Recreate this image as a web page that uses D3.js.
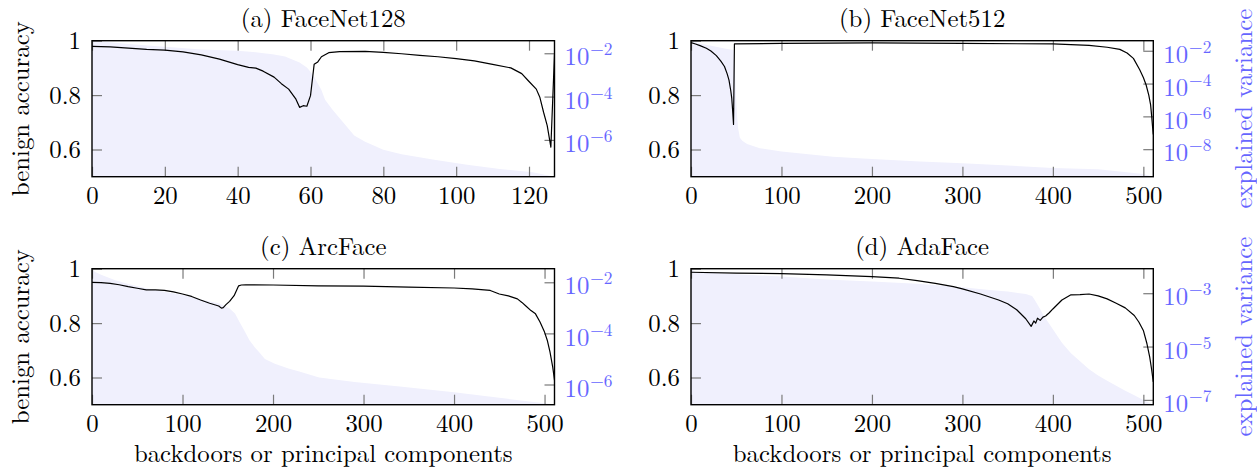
<!DOCTYPE html>
<html>
<head>
<meta charset="utf-8">
<script src="https://cdn.jsdelivr.net/npm/d3@7"></script>
<style>
  html, body { margin: 0; padding: 0; background: #fff; }
  svg { display: block; }
</style>
</head>
<body>
<svg id="chart" width="1257" height="472"></svg>
<script>
// ---- data -------------------------------------------------------------
const titles = ["(a) FaceNet128", "(b) FaceNet512", "(c) ArcFace", "(d) AdaFace"];
const yLabel = "benign accuracy";
const y2Label = "explained variance";
const xLabel = "backdoors or principal components";

const xTicks128 = [0, 20, 40, 60, 80, 100, 120];
const xTicks512 = [0, 100, 200, 300, 400, 500];
const accTicks = [0.6, 0.8, 1];

// FaceNet128 (128 components)
const fn128AccX = [0,5,10,15,20,25,30,35,40,43,45,47,50,52,54,56,57,58,59,60,61,62,63,65,68,75,80,85,90,95,100,105,110,115,118,120,122,123,124,125,126,127];
const fn128Acc  = [0.979,0.977,0.973,0.968,0.965,0.959,0.948,0.932,0.912,0.902,0.899,0.888,0.866,0.842,0.822,0.785,0.755,0.761,0.759,0.798,0.913,0.922,0.941,0.956,0.960,0.961,0.957,0.952,0.946,0.941,0.934,0.926,0.913,0.900,0.879,0.850,0.822,0.791,0.737,0.688,0.609,0.950];
const fn128VarX = [0,5,10,20,30,40,45,50,53,55,57,59,60,61,62,63,64,66,69,72,75,80,85,94,103,112,121,127];
const fn128Var  = [3.8e-2,3.2e-2,2.7e-2,2.0e-2,1.5e-2,1.3e-2,1.1e-2,8.7e-3,7.1e-3,5.2e-3,3.7e-3,2.2e-3,1.4e-3,8.3e-4,4.0e-4,2.0e-4,7.1e-5,2.5e-5,6.3e-6,1.6e-6,8.3e-7,3.5e-7,2.2e-7,1.2e-7,7.1e-8,4.5e-8,3.2e-8,2.0e-8];
const varTicks128 = [1e-2, 1e-4, 1e-6];

// FaceNet512 (512 components)
const fn512AccX = [0,5,10,17,22,28,33,37,40,42,44,45,46,47,48,100,200,300,400,440,460,474,482,489,496,500,503,506,508,509,510,511];
const fn512Acc  = [0.993,0.988,0.982,0.972,0.962,0.945,0.925,0.905,0.878,0.855,0.815,0.790,0.745,0.692,0.988,0.990,0.992,0.990,0.988,0.983,0.976,0.968,0.955,0.935,0.893,0.865,0.838,0.800,0.765,0.730,0.690,0.655];
const fn512VarX = [0,10,25,40,47,48,49,50,51,52,54,57,62,76,100,157,200,253,300,400,450,500,511];
const fn512Var  = [4.1e-2,2.8e-2,1.9e-2,1.3e-2,1.1e-2,2.5e-3,1.6e-4,1.0e-5,1.0e-6,2.0e-7,5.0e-8,3.2e-8,2.1e-8,1.15e-8,7.1e-9,3.5e-9,2.5e-9,1.8e-9,1.4e-9,7.2e-10,6.0e-10,3.1e-10,2.1e-10];
const varTicks512 = [1e-2, 1e-4, 1e-6, 1e-8];

// ArcFace (512 components)
const arcAccX = [0,10,20,30,40,50,60,70,80,90,100,110,120,130,140,143,145,148,152,157,162,165,170,200,250,300,350,400,420,440,450,460,470,475,480,485,490,495,500,503,506,509,510,511];
const arcAcc  = [0.950,0.949,0.946,0.941,0.934,0.928,0.922,0.922,0.920,0.915,0.907,0.898,0.885,0.873,0.863,0.855,0.857,0.868,0.880,0.901,0.937,0.940,0.941,0.940,0.937,0.936,0.932,0.929,0.926,0.920,0.907,0.900,0.889,0.876,0.861,0.846,0.834,0.804,0.767,0.737,0.694,0.639,0.615,0.590];
const arcVarX = [0,3,10,25,40,60,80,100,120,140,152,158,163,169,174,180,185,191,202,217,229,251,290,340,400,450,500,511];
const arcVar  = [3.4e-2,2.6e-2,1.95e-2,1.23e-2,8.5e-3,5.8e-3,4.3e-3,3.2e-3,2.1e-3,1.5e-3,9.5e-4,6.0e-4,2.8e-4,1.15e-4,5.4e-5,2.8e-5,1.8e-5,1.0e-5,6.5e-6,4.2e-6,3.2e-6,1.9e-6,1.26e-6,8.3e-7,5.0e-7,3.0e-7,1.86e-7,1.62e-7];
const varTicksArc = [1e-2, 1e-4, 1e-6];

// AdaFace (512 components)
const adaAccX = [0,50,100,150,200,230,250,270,290,300,320,340,350,360,370,376,379,381,383,386,389,392,396,400,410,420,430,440,450,460,470,480,490,495,500,504,507,509,511];
const adaAcc  = [0.987,0.984,0.982,0.977,0.971,0.965,0.956,0.946,0.934,0.926,0.907,0.885,0.871,0.849,0.816,0.788,0.808,0.800,0.818,0.810,0.822,0.826,0.838,0.852,0.885,0.904,0.905,0.907,0.900,0.889,0.873,0.856,0.828,0.804,0.773,0.724,0.676,0.633,0.584];
const adaVarX = [0,5,50,100,150,200,250,300,330,350,370,377,380,386,390,395,400,410,420,430,440,450,460,470,480,490,500,511];
const adaVar  = [8.3e-3,6.3e-3,5.1e-3,4.2e-3,3.3e-3,2.75e-3,2.25e-3,1.66e-3,1.32e-3,1.15e-3,9.3e-4,7.9e-4,5.6e-4,2.5e-4,1.4e-4,7.9e-5,4.5e-5,1.4e-5,5.6e-6,2.8e-6,1.4e-6,8.3e-7,5.2e-7,3.4e-7,2.2e-7,1.5e-7,1.0e-7,6.6e-8];
const varTicksAda = [1e-3, 1e-5, 1e-7];

// ---- layout & style ---------------------------------------------------
const colX = [[92, 554.5], [691, 1153.3]];
const rowY = [[40.7, 176.7], [268.7, 404.7]];
const FONT = "'Latin Modern Roman', 'CMU Serif', 'Liberation Serif', serif";
const FILL = "#f0f0fd";
const BLUE = "#6666ff";
const TICK = "#7a7a7a";
const FS = 24.8;
const FS_SUP = 17.4;

const panels = [
  { title: titles[0], col: 0, row: 0, xMax: 127, xTicks: xTicks128, accX: fn128AccX, acc: fn128Acc, varX: fn128VarX, variance: fn128Var, varTicks: varTicks128 },
  { title: titles[1], col: 1, row: 0, xMax: 511, xTicks: xTicks512, accX: fn512AccX, acc: fn512Acc, varX: fn512VarX, variance: fn512Var, varTicks: varTicks512 },
  { title: titles[2], col: 0, row: 1, xMax: 511, xTicks: xTicks512, accX: arcAccX, acc: arcAcc, varX: arcVarX, variance: arcVar, varTicks: varTicksArc },
  { title: titles[3], col: 1, row: 1, xMax: 511, xTicks: xTicks512, accX: adaAccX, acc: adaAcc, varX: adaVarX, variance: adaVar, varTicks: varTicksAda }
];

const svg = d3.select("#chart").style("font-family", FONT);
svg.append("rect").attr("width", 1257).attr("height", 472).attr("fill", "#fff");

function label(sel) {
  return sel.style("font-family", FONT).attr("font-size", FS);
}

panels.forEach((p, i) => {
  const [x0, x1] = colX[p.col];
  const [y0, y1] = rowY[p.row];
  const g = svg.append("g");

  const x = d3.scaleLinear().domain([0, p.xMax]).range([x0, x1]);
  const yAcc = d3.scaleLinear().domain([0.5, 1]).range([y1, y0]);
  const yVar = d3.scaleLog().domain(d3.extent(p.variance)).range([y1, y0]);

  const clipId = "clip" + i;
  svg.append("clipPath").attr("id", clipId)
    .append("rect").attr("x", x0).attr("y", y0).attr("width", x1 - x0).attr("height", y1 - y0);

  // explained variance, filled down to the bottom of the frame
  const area = d3.area()
    .x((d, k) => x(p.varX[k]))
    .y0(y1)
    .y1(d => yVar(d));
  g.append("path").datum(p.variance)
    .attr("clip-path", `url(#${clipId})`)
    .attr("d", area).attr("fill", FILL).attr("stroke", "none");

  // ticks (all pointing inward)
  const styleAxis = a => {
    a.attr("font-family", null);
    a.select(".domain").remove();
    a.selectAll(".tick line").attr("stroke", TICK).attr("stroke-width", 1.2);
    a.selectAll(".tick text").call(label).attr("fill", "#000");
  };
  g.append("g").attr("transform", `translate(0,${y1})`)
    .call(d3.axisBottom(x).tickValues(p.xTicks).tickSize(-10).tickPadding(10).tickFormat(d3.format("d")))
    .call(styleAxis);
  g.append("g").attr("transform", `translate(0,${y0})`)
    .call(d3.axisTop(x).tickValues(p.xTicks).tickSize(-10).tickFormat(() => ""))
    .call(styleAxis);
  g.append("g").attr("transform", `translate(${x0},0)`)
    .call(d3.axisLeft(yAcc).tickValues(accTicks).tickSize(-10).tickPadding(11).tickFormat(d3.format("~g")))
    .call(styleAxis);
  const right = g.append("g").attr("transform", `translate(${x1},0)`)
    .call(d3.axisRight(yVar).tickValues(p.varTicks).tickSize(-10).tickFormat(() => ""))
    .call(styleAxis);
  right.selectAll(".tick text").remove();
  right.selectAll(".tick").append("text")
    .call(label)
    .attr("x", 10).attr("y", 11.7)
    .attr("fill", BLUE).attr("text-anchor", "start")
    .each(function (d) {
      const e = Math.round(Math.log10(d));
      const t = d3.select(this);
      t.append("tspan").text("10");
      t.append("tspan").attr("dx", 1).attr("dy", -10).attr("font-size", FS_SUP).text("\u2212" + Math.abs(e));
    });

  // benign accuracy line
  const line = d3.line()
    .x((d, k) => x(p.accX[k]))
    .y(d => yAcc(d));
  g.append("path").datum(p.acc)
    .attr("clip-path", `url(#${clipId})`)
    .attr("d", line).attr("fill", "none").attr("stroke", "#000")
    .attr("stroke-width", 1.2).attr("stroke-linejoin", "round");

  // frame
  g.append("rect").attr("x", x0).attr("y", y0).attr("width", x1 - x0).attr("height", y1 - y0)
    .attr("fill", "none").attr("stroke", "#000").attr("stroke-width", 1.4);

  // title
  g.append("text").call(label).attr("x", (x0 + x1) / 2).attr("y", y0 - 14.2)
    .attr("text-anchor", "middle").text(p.title);

  const cy = (y0 + y1) / 2;
  if (p.col === 0) {
    g.append("text").call(label).attr("transform", `translate(28.5,${cy}) rotate(-90)`)
      .attr("text-anchor", "middle").text(yLabel);
  } else {
    g.append("text").call(label).attr("transform", `translate(1251.5,${cy}) rotate(-90)`)
      .attr("text-anchor", "middle").attr("fill", BLUE).text(y2Label);
  }
  if (p.row === 1) {
    g.append("text").call(label).attr("x", (x0 + x1) / 2).attr("y", 462)
      .attr("text-anchor", "middle").text(xLabel);
  }
});
</script>
</body>
</html>
